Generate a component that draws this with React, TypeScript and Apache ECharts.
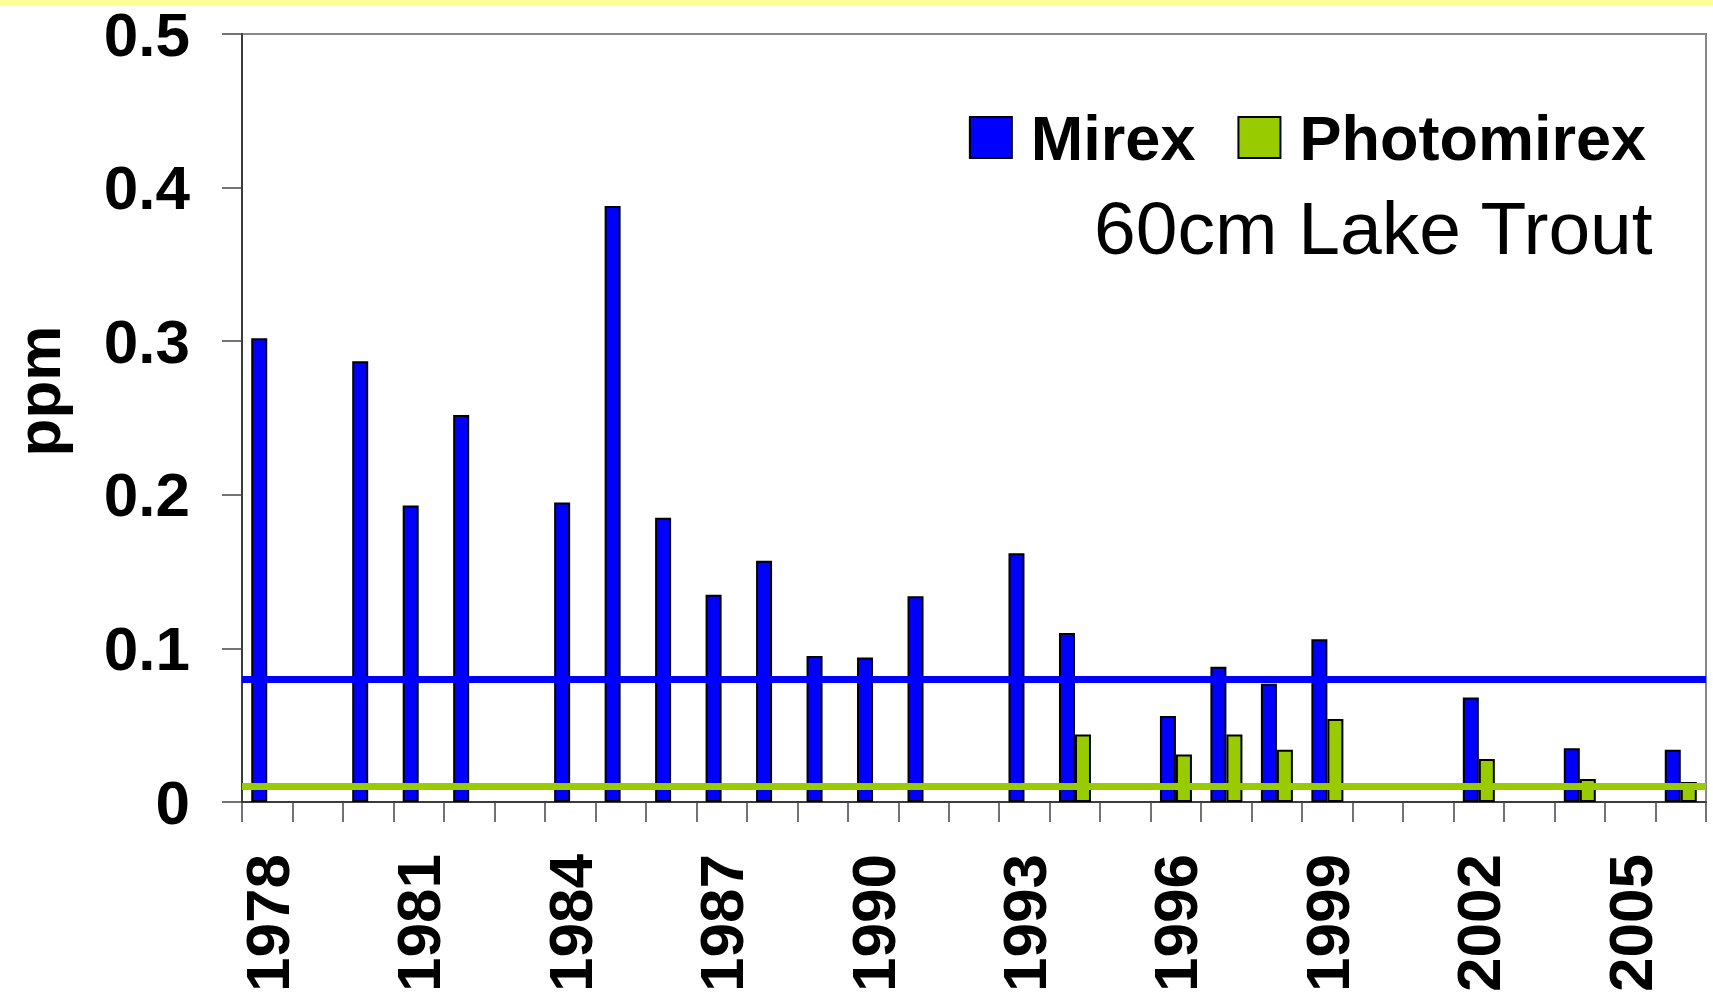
import React, { useEffect, useRef } from "react";
import * as echarts from "echarts";

const years: string[] = [
  "1978", "1979", "1980", "1981", "1982", "1983", "1984", "1985", "1986", "1987",
  "1988", "1989", "1990", "1991", "1992", "1993", "1994", "1995", "1996", "1997",
  "1998", "1999", "2000", "2001", "2002", "2003", "2004", "2005", "2006",
];

const mirex: (number | null)[] = [
  0.302, null, 0.287, 0.193, 0.252, null, 0.195, 0.388, 0.185, 0.135,
  0.157, 0.095, 0.094, 0.134, null, 0.162, 0.110, null, 0.056, 0.088,
  0.077, 0.106, null, null, 0.068, null, 0.035, null, 0.034,
];

const photomirex: (number | null)[] = [
  null, null, null, null, null, null, null, null, null, null,
  null, null, null, null, null, null, 0.044, null, 0.031, 0.044,
  0.034, 0.054, null, null, 0.028, null, 0.015, null, 0.013,
];

const mirexGuideline = 0.08;
const photomirexGuideline = 0.008;

const seriesNames = ["Mirex", "Photomirex"];
const subtitle = "60cm Lake Trout";
const yAxisName = "ppm";

const FONT = "'Liberation Sans', Arial, sans-serif";
const BLUE = "#0000FF";
const GREEN = "#99CC00";

export default function App() {
  const ref = useRef<HTMLDivElement>(null);

  useEffect(() => {
    if (!ref.current) return;
    const chart = echarts.init(ref.current, null, { renderer: "svg" });
    chart.setOption({
      animation: false,
      backgroundColor: "#ffffff",
      textStyle: { fontFamily: FONT },
      title: {
        text: subtitle,
        right: 59,
        top: 190,
        padding: 0,
        textStyle: {
          fontFamily: FONT,
          fontSize: 75,
          fontWeight: "normal",
          color: "#000",
          lineHeight: 75,
        },
      },
      legend: {
        data: seriesNames,
        right: 67,
        top: 106,
        padding: 0,
        itemWidth: 42,
        itemHeight: 41,
        itemGap: 42,
        icon: "rect",
        textStyle: {
          fontFamily: FONT,
          fontSize: 63,
          fontWeight: "bold",
          color: "#000",
          padding: [0, 0, 0, 14],
        },
      },
      graphic: [
        {
          type: "rect",
          shape: { x: 0, y: 0, width: 1713, height: 6 },
          style: { fill: "#FFFF99" },
          silent: true,
        },
        {
          type: "text",
          x: 38,
          y: 391,
          rotation: Math.PI / 2,
          style: {
            text: yAxisName,
            font: `bold 62px ${FONT}`,
            lineHeight: 50,
            fill: "#000",
            textAlign: "center",
            textVerticalAlign: "middle",
          },
          silent: true,
        },
      ],
      grid: {
        left: 242,
        right: 7,
        top: 34,
        bottom: 193,
        show: true,
        borderColor: "#888888",
        borderWidth: 2,
        backgroundColor: "transparent",
      },
      xAxis: {
        type: "category",
        data: years,
        axisLine: { show: true, lineStyle: { color: "#222", width: 1.5 } },
        axisTick: {
          show: true,
          interval: 0,
          length: 20,
          lineStyle: { color: "#444", width: 1.5 },
        },
        axisLabel: {
          interval: 2,
          rotate: 90,
          margin: 52,
          fontFamily: FONT,
          fontSize: 62,
          fontWeight: "bold",
          color: "#000",
        },
        splitLine: { show: false },
      },
      yAxis: {
        type: "value",
        min: 0,
        max: 0.5,
        interval: 0.1,
        axisLine: { show: true, lineStyle: { color: "#222", width: 1.5 } },
        axisTick: { show: true, length: 20, lineStyle: { color: "#444", width: 1.5 } },
        axisLabel: {
          margin: 52,
          fontFamily: FONT,
          fontSize: 62,
          fontWeight: "bold",
          color: "#000",
        },
        splitLine: { show: false },
      },
      series: [
        {
          name: seriesNames[0],
          type: "bar",
          data: mirex,
          barWidth: 16,
          barGap: "0%",
          itemStyle: { color: BLUE, borderColor: "#000", borderWidth: 2 },
          markLine: {
            silent: true,
            symbol: "none",
            label: { show: false },
            lineStyle: { color: BLUE, width: 7, type: "solid" },
            data: [{ yAxis: mirexGuideline }],
            z: 10,
          },
        },
        {
          name: seriesNames[1],
          type: "bar",
          data: photomirex,
          barWidth: 16,
          barGap: "0%",
          itemStyle: { color: GREEN, borderColor: "#000", borderWidth: 2 },
          markLine: {
            silent: true,
            symbol: "none",
            label: { show: false },
            lineStyle: { color: GREEN, width: 7, type: "solid" },
            data: [{ yAxis: photomirexGuideline }],
            z: 10,
          },
        },
      ],
    });
    return () => chart.dispose();
  }, []);

  return (
    <div
      ref={ref}
      style={{ position: "absolute", left: 0, top: 0, width: 1713, height: 995 }}
    />
  );
}
